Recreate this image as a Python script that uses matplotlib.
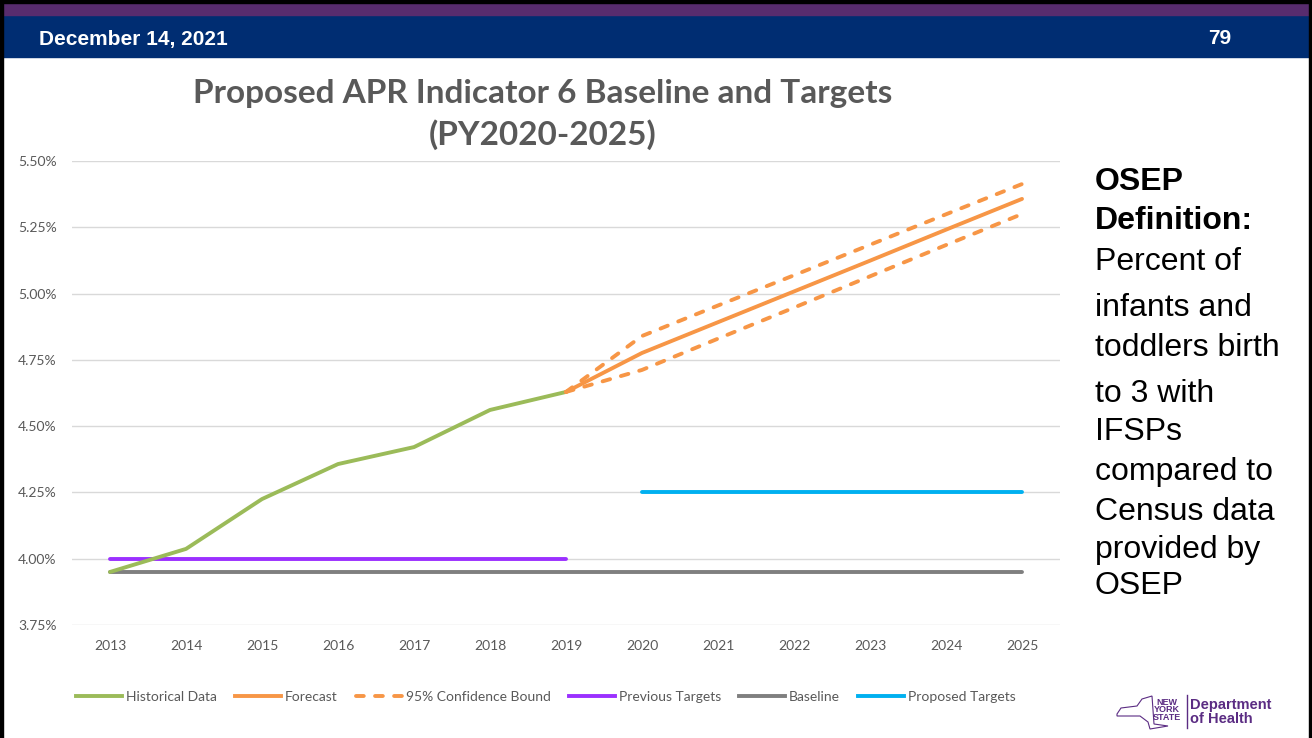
import matplotlib
matplotlib.use("Agg")
import matplotlib.pyplot as plt
from matplotlib.patches import Rectangle, Polygon
from matplotlib.lines import Line2D

W, H = 1312, 738

years = ["2013", "2014", "2015", "2016", "2017", "2018", "2019",
         "2020", "2021", "2022", "2023", "2024", "2025"]

# values in percent
historical = [3.95, 4.037, 4.225, 4.357, 4.421, 4.561, 4.629]
forecast = [4.629, 4.776, 4.892, 5.008, 5.124, 5.241, 5.357]
upper_bound = [4.629, 4.840, 4.955, 5.069, 5.184, 5.299, 5.413]
lower_bound = [4.629, 4.712, 4.830, 4.947, 5.065, 5.183, 5.300]
previous_targets = [4.00] * 7
baseline = [3.95] * 13
proposed_targets = [4.25] * 6

yticks = [3.75, 4.00, 4.25, 4.50, 4.75, 5.00, 5.25, 5.50]

GREEN = "#9BBB59"
ORANGE = "#F79646"
PURPLE = "#9B30FF"
GRAY = "#7F7F7F"
CYAN = "#00B0F0"
TXT = "#595959"


def px(x, y):
    return x / W, 1 - y / H


fig = plt.figure(figsize=(W / 100, H / 100), dpi=100)
fig.patch.set_facecolor("white")

# slide header
fig.patches.append(Rectangle(px(0, 57), 1, 57 / H, transform=fig.transFigure,
                             color="#002D72", zorder=0))
fig.patches.append(Rectangle(px(0, 15), 1, 12 / H, transform=fig.transFigure,
                             color="#582C6E", zorder=1))
fig.patches.append(Rectangle(px(0, 3), 1, 3 / H, transform=fig.transFigure,
                             color="black", zorder=1))
fig.patches.append(Rectangle((0, 0), 3 / W, 1, transform=fig.transFigure,
                             color="black", zorder=2))
fig.patches.append(Rectangle((1 - 3 / W, 0), 3 / W, 1, transform=fig.transFigure,
                             color="black", zorder=2))
fig.text(*px(39, 39), "December 14, 2021", color="white", fontsize=15,
         fontweight="bold", family="Liberation Sans", va="center", ha="left")
fig.text(*px(1231, 39), "79", color="white", fontsize=15,
         fontweight="bold", family="Liberation Sans", va="center", ha="right")

# chart
ax = fig.add_axes([72 / W, (H - 625) / H, 988 / W, 464 / H])
x_all = list(range(len(years)))
ax.plot(x_all, baseline, color=GRAY, lw=2.8, solid_capstyle="round", zorder=2)
ax.plot(x_all[:7], previous_targets, color=PURPLE, lw=2.8, solid_capstyle="round", zorder=3)
ax.plot(x_all[7:], proposed_targets, color=CYAN, lw=2.8, solid_capstyle="round", zorder=3)
ax.plot(x_all[:7], historical, color=GREEN, lw=2.8, solid_capstyle="round", zorder=4)
dash = (0, (2.0, 2.9))
ax.plot(x_all[6:], upper_bound, color=ORANGE, lw=2.8, ls=dash,
        dash_capstyle="round", zorder=4)
ax.plot(x_all[6:], lower_bound, color=ORANGE, lw=2.8, ls=dash,
        dash_capstyle="round", zorder=4)
ax.plot(x_all[6:], forecast, color=ORANGE, lw=2.8, solid_capstyle="round", zorder=5)

ax.set_xlim(-0.5, len(years) - 0.5)
ax.set_ylim(3.75, 5.50)
ax.set_xticks(x_all)
ax.set_xticklabels(years)
ax.set_yticks(yticks)
ax.set_yticklabels([f"{v:.2f}%" for v in yticks])
ax.grid(axis="y", color="#D9D9D9", lw=1)
ax.set_axisbelow(True)
for s in ax.spines.values():
    s.set_visible(False)
ax.tick_params(length=0, labelsize=10, labelcolor=TXT)
ax.tick_params(axis="y", pad=11)
ax.tick_params(axis="x", pad=11)
for lab in ax.get_xticklabels() + ax.get_yticklabels():
    lab.set_family("Lato")

fig.text(*px(543, 93), "Proposed APR Indicator 6 Baseline and Targets",
         fontsize=24, fontweight="bold", color=TXT, family="Lato",
         ha="center", va="center")
fig.text(*px(543, 135), "(PY2020-2025)",
         fontsize=24, fontweight="bold", color=TXT, family="Lato",
         ha="center", va="center")

handles = [
    Line2D([], [], color=GREEN, lw=2.8),
    Line2D([], [], color=ORANGE, lw=2.8),
    Line2D([], [], color=ORANGE, lw=2.8, ls=dash, dash_capstyle="round"),
    Line2D([], [], color=PURPLE, lw=2.8),
    Line2D([], [], color=GRAY, lw=2.8),
    Line2D([], [], color=CYAN, lw=2.8),
]
labels = ["Historical Data", "Forecast", "95% Confidence Bound",
          "Previous Targets", "Baseline", "Proposed Targets"]
fig.legend(handles, labels, loc="center", bbox_to_anchor=px(546, 697), ncol=6,
           frameon=False, handlelength=3.3, handletextpad=0.3, columnspacing=1.3,
           prop={"family": "Lato", "size": 10}, labelcolor=TXT)

# side text
fig.text(*px(1095, 182), "OSEP", fontsize=23, fontweight="bold",
         family="Liberation Sans", va="center")
fig.text(*px(1095, 221), "Definition:", fontsize=23, fontweight="bold",
         family="Liberation Sans", va="center")
side_lines = ["Percent of", "infants and", "toddlers birth", "to 3 with", "IFSPs",
              "compared to", "Census data", "provided by", "OSEP"]
side_y = [262, 308, 348, 394, 432, 472, 512, 550, 586]
for t, yy in zip(side_lines, side_y):
    fig.text(*px(1095, yy), t, fontsize=23, family="Liberation Sans", va="center")

# logo (rough state outline + wordmark)
LOGO = "#5B2C83"
outline = [(1117, 714), (1121, 708), (1137, 706), (1142, 699), (1152, 696),
           (1154, 724), (1168, 726), (1150, 729), (1148, 722), (1140, 716),
           (1117, 716)]
fig.patches.append(Polygon([px(a, b) for a, b in outline], closed=True,
                           fill=False, edgecolor=LOGO, lw=0.8,
                           transform=fig.transFigure))
fig.text(*px(1167, 710), "NEW\nYORK\nSTATE", fontsize=6.5, fontweight="bold",
         color=LOGO, family="Liberation Sans", ha="center", va="center",
         linespacing=0.85)
fig.add_artist(Line2D([1187 / W, 1187 / W], [1 - 695 / H, 1 - 728 / H],
                      color=LOGO, lw=1))
fig.text(*px(1190, 712), "Department\nof Health", fontsize=10.5, fontweight="bold",
         color=LOGO, family="Liberation Sans", ha="left", va="center",
         linespacing=0.95)

fig.savefig("out.png", dpi=100)
